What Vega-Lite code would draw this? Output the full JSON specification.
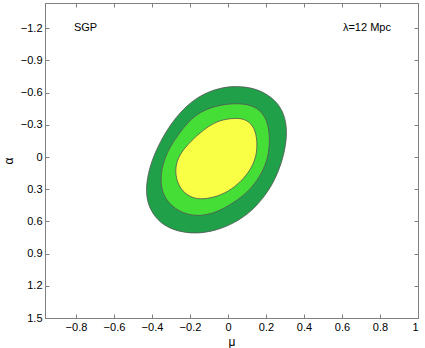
{
  "$schema": "https://vega.github.io/schema/vega-lite/v6.json",
  "width": 373,
  "height": 315,
  "autosize": {"type": "none"},
  "padding": {"left": 45, "top": 3, "right": 7, "bottom": 30},
  "background": "white",
  "config": {
    "view": {"stroke": "#808080", "strokeWidth": 1},
    "font": "Liberation Sans",
    "axis": {
      "domainColor": "#808080",
      "tickColor": "#808080",
      "tickSize": -4,
      "labelPadding": 7,
      "labelFont": "Liberation Sans",
      "labelFontSize": 11,
      "labelColor": "black",
      "titleFont": "Liberation Sans",
      "titleFontSize": 12,
      "titleFontWeight": "normal",
      "titleColor": "black",
      "grid": false
    }
  },
  "datasets": {
    "outer": [
      {"i": 0, "mu": -0.042, "alpha": -0.644},
      {"i": 1, "mu": 0.037, "alpha": -0.662},
      {"i": 2, "mu": 0.142, "alpha": -0.644},
      {"i": 3, "mu": 0.232, "alpha": -0.56},
      {"i": 4, "mu": 0.289, "alpha": -0.438},
      {"i": 5, "mu": 0.311, "alpha": -0.28},
      {"i": 6, "mu": 0.305, "alpha": -0.112},
      {"i": 7, "mu": 0.284, "alpha": 0.046},
      {"i": 8, "mu": 0.247, "alpha": 0.214},
      {"i": 9, "mu": 0.195, "alpha": 0.363},
      {"i": 10, "mu": 0.126, "alpha": 0.503},
      {"i": 11, "mu": 0.037, "alpha": 0.615},
      {"i": 12, "mu": -0.068, "alpha": 0.689},
      {"i": 13, "mu": -0.174, "alpha": 0.717},
      {"i": 14, "mu": -0.279, "alpha": 0.689},
      {"i": 15, "mu": -0.358, "alpha": 0.615},
      {"i": 16, "mu": -0.411, "alpha": 0.493},
      {"i": 17, "mu": -0.432, "alpha": 0.354},
      {"i": 18, "mu": -0.426, "alpha": 0.195},
      {"i": 19, "mu": -0.4, "alpha": 0.027},
      {"i": 20, "mu": -0.358, "alpha": -0.14},
      {"i": 21, "mu": -0.295, "alpha": -0.326},
      {"i": 22, "mu": -0.216, "alpha": -0.485},
      {"i": 23, "mu": -0.132, "alpha": -0.588}
    ],
    "middle": [
      {"i": 0, "mu": -0.068, "alpha": -0.476},
      {"i": 1, "mu": 0.037, "alpha": -0.504},
      {"i": 2, "mu": 0.126, "alpha": -0.485},
      {"i": 3, "mu": 0.179, "alpha": -0.42},
      {"i": 4, "mu": 0.211, "alpha": -0.317},
      {"i": 5, "mu": 0.221, "alpha": -0.159},
      {"i": 6, "mu": 0.211, "alpha": 0.009},
      {"i": 7, "mu": 0.179, "alpha": 0.149},
      {"i": 8, "mu": 0.126, "alpha": 0.289},
      {"i": 9, "mu": 0.053, "alpha": 0.4},
      {"i": 10, "mu": -0.042, "alpha": 0.503},
      {"i": 11, "mu": -0.132, "alpha": 0.55},
      {"i": 12, "mu": -0.211, "alpha": 0.54},
      {"i": 13, "mu": -0.279, "alpha": 0.484},
      {"i": 14, "mu": -0.326, "alpha": 0.4},
      {"i": 15, "mu": -0.353, "alpha": 0.289},
      {"i": 16, "mu": -0.353, "alpha": 0.139},
      {"i": 17, "mu": -0.332, "alpha": 0.009},
      {"i": 18, "mu": -0.305, "alpha": -0.094},
      {"i": 19, "mu": -0.263, "alpha": -0.205},
      {"i": 20, "mu": -0.211, "alpha": -0.326},
      {"i": 21, "mu": -0.147, "alpha": -0.42}
    ],
    "inner": [
      {"i": 0, "mu": -0.042, "alpha": -0.345},
      {"i": 1, "mu": 0.037, "alpha": -0.364},
      {"i": 2, "mu": 0.089, "alpha": -0.354},
      {"i": 3, "mu": 0.132, "alpha": -0.298},
      {"i": 4, "mu": 0.153, "alpha": -0.187},
      {"i": 5, "mu": 0.153, "alpha": -0.038},
      {"i": 6, "mu": 0.132, "alpha": 0.074},
      {"i": 7, "mu": 0.095, "alpha": 0.177},
      {"i": 8, "mu": 0.037, "alpha": 0.279},
      {"i": 9, "mu": -0.032, "alpha": 0.354},
      {"i": 10, "mu": -0.111, "alpha": 0.391},
      {"i": 11, "mu": -0.174, "alpha": 0.391},
      {"i": 12, "mu": -0.226, "alpha": 0.344},
      {"i": 13, "mu": -0.263, "alpha": 0.261},
      {"i": 14, "mu": -0.279, "alpha": 0.139},
      {"i": 15, "mu": -0.268, "alpha": 0.027},
      {"i": 16, "mu": -0.237, "alpha": -0.066},
      {"i": 17, "mu": -0.184, "alpha": -0.168},
      {"i": 18, "mu": -0.111, "alpha": -0.28}
    ],
    "labels": [
      {"mu": -0.811, "alpha": -1.2, "label": "SGP"},
      {"mu": 0.605, "alpha": -1.2, "label": "λ=12 Mpc"}
    ]
  },
  "resolve": {"axis": {"x": "independent", "y": "independent"}},
  "layer": [
    {
      "data": {"name": "outer"},
      "mark": {"type": "line", "interpolate": "basis-closed", "fill": "#21a04a", "stroke": "#555555", "strokeWidth": 0.8},
      "encoding": {
        "x": {"field": "mu", "type": "quantitative",
              "scale": {"domain": [-0.963, 1], "nice": false, "zero": false},
              "axis": {"orient": "bottom", "title": "μ", "values": [-0.8, -0.6, -0.4, -0.2, 0, 0.2, 0.4, 0.6, 0.8, 1], "format": ".1~f", "titlePadding": 4}},
        "y": {"field": "alpha", "type": "quantitative",
              "scale": {"domain": [-1.435, 1.5], "nice": false, "zero": false, "reverse": true},
              "axis": {"orient": "left", "title": "α", "values": [-1.2, -0.9, -0.6, -0.3, 0, 0.3, 0.6, 0.9, 1.2, 1.5], "format": ".1~f", "titlePadding": 5}},
        "order": {"field": "i", "type": "quantitative"}
      }
    },
    {
      "data": {"name": "middle"},
      "mark": {"type": "line", "interpolate": "basis-closed", "fill": "#45de36", "stroke": "#555555", "strokeWidth": 0.8},
      "encoding": {
        "x": {"field": "mu", "type": "quantitative", "axis": null},
        "y": {"field": "alpha", "type": "quantitative", "axis": null},
        "order": {"field": "i", "type": "quantitative"}
      }
    },
    {
      "data": {"name": "inner"},
      "mark": {"type": "line", "interpolate": "basis-closed", "fill": "#f8ff45", "stroke": "#555555", "strokeWidth": 0.8},
      "encoding": {
        "x": {"field": "mu", "type": "quantitative", "axis": null},
        "y": {"field": "alpha", "type": "quantitative", "axis": null},
        "order": {"field": "i", "type": "quantitative"}
      }
    },
    {
      "data": {"name": "labels"},
      "mark": {"type": "text", "align": "left", "baseline": "middle", "fontSize": 11, "font": "Liberation Sans", "color": "black"},
      "encoding": {
        "x": {"field": "mu", "type": "quantitative",
              "axis": {"orient": "top", "labels": false, "title": null, "values": [-0.8, -0.6, -0.4, -0.2, 0, 0.2, 0.4, 0.6, 0.8, 1]}},
        "y": {"field": "alpha", "type": "quantitative",
              "axis": {"orient": "right", "labels": false, "title": null, "values": [-1.2, -0.9, -0.6, -0.3, 0, 0.3, 0.6, 0.9, 1.2, 1.5]}},
        "text": {"field": "label", "type": "nominal"}
      }
    }
  ]
}
